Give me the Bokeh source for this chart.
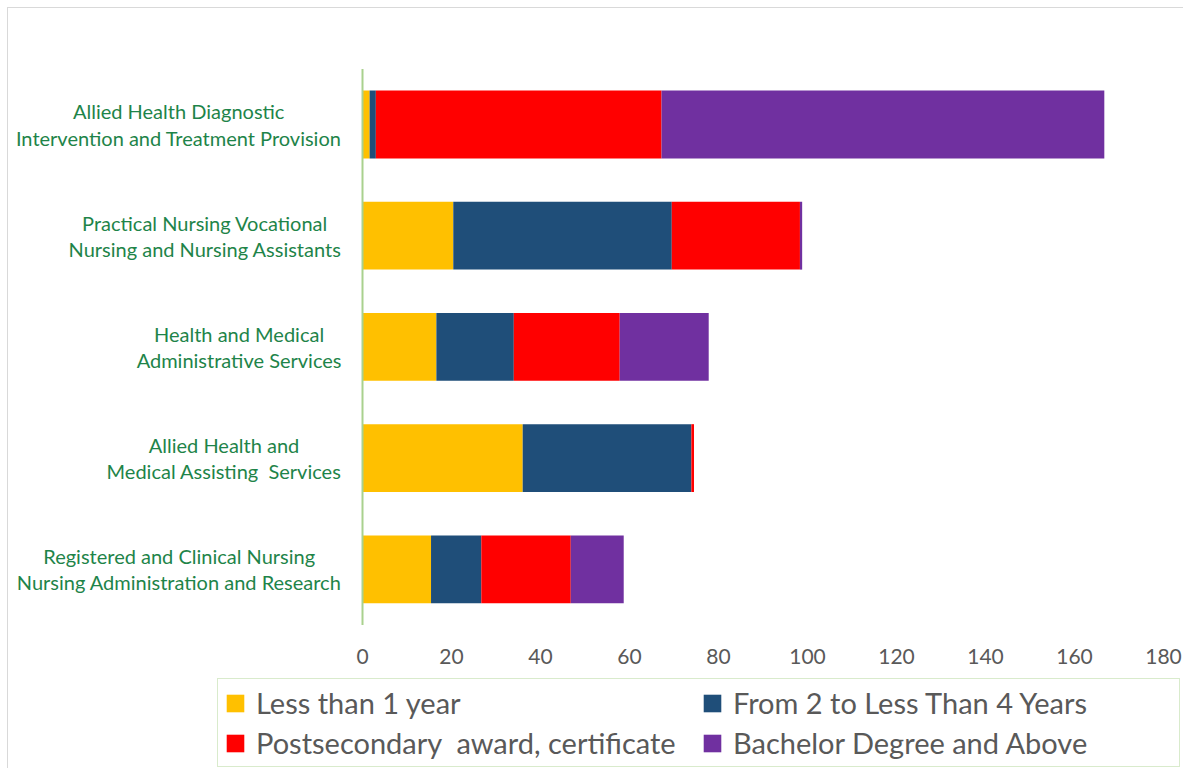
from bokeh.plotting import figure
from bokeh.models import ColumnDataSource, Range1d, Legend, LegendItem
from bokeh.core.properties import value
from bokeh.embed import file_html
from bokeh.resources import INLINE

categories = [
    "Allied Health Diagnostic\nIntervention and Treatment Provision",
    "Practical Nursing Vocational\nNursing and Nursing Assistants",
    "Health and Medical\nAdministrative Services",
    "Allied Health and\nMedical Assisting\u00a0 Services",
    "Registered and Clinical Nursing\nNursing Administration and Research",
]
less_than_1 = [1.6, 20.4, 16.6, 36.0, 15.4]
from_2_to_4 = [1.4, 49.1, 17.4, 37.9, 11.3]
postsecondary = [64.2, 28.8, 23.8, 0.6, 20.1]
bachelor = [99.5, 0.5, 20.0, 0.0, 11.9]
series_names = ["Less than 1 year", "From 2 to Less Than 4 Years",
                "Postsecondary\u00a0 award, certificate", "Bachelor Degree and Above"]
x_ticks = [0, 20, 40, 60, 80, 100, 120, 140, 160, 180]

colors = ["#FFC000", "#1F4E79", "#FF0000", "#7030A0"]
FONT = "Lato"
n = len(categories)
ypos = [n - 1 - i for i in range(n)]

source = ColumnDataSource(dict(
    y=ypos, cat=categories, less=less_than_1, two=from_2_to_4,
    post=postsecondary, bach=bachelor))

# ---- layout (canvas pixels) ----
W, H = 1176, 761
zero_px = 354                 # x pixel of value 0
px_per_unit = 801 / 180       # x scale
band_px = 111.2               # height of one category band
top_band_px = 116             # y pixel of the top category centre
x0 = -zero_px / px_per_unit
x1 = x0 + W / px_per_unit
y1 = (n - 1) + top_band_px / band_px
y0 = y1 - H / band_px
tick_y = -0.5 - 32 / band_px

p = figure(width=W, height=H, output_backend="svg", toolbar_location=None,
           x_range=Range1d(x0, x1), y_range=Range1d(y0, y1),
           min_border=0)
p.styles = {"margin-left": "7px", "margin-top": "7px",
            "border-left": "1px solid #d9d9d9", "border-top": "1px solid #d9d9d9"}
p.outline_line_color = None
p.xgrid.visible = False
p.ygrid.visible = False
p.xaxis.visible = False
p.yaxis.visible = False

renderers = p.hbar_stack(["less", "two", "post", "bach"], y="y", height=0.61,
                         color=colors, line_color=None, source=source)

# value axis line (at 0, spanning the category bands)
p.segment(x0=[0], y0=[-0.5], x1=[0], y1=[n - 0.5], line_color="#a9d18e", line_width=2)

# category labels
p.text(x=0, y="y", text="cat", source=source, x_offset=-21,
       anchor="center_right", text_align="center", text_baseline="middle",
       text_font=value(FONT), text_font_size="20px", text_color="#1E8449",
       text_line_height=1.09)

# value tick labels
p.text(x=x_ticks, y=[tick_y] * len(x_ticks), text=[str(t) for t in x_ticks],
       text_align="center", text_baseline="middle",
       text_font=value(FONT), text_font_size="21px", text_color="#595959")

items = [LegendItem(label=name, renderers=[r]) for name, r in zip(series_names, renderers)]
legend = Legend(items=items, location=(209, 2), orientation="horizontal", ncols=2,
                label_text_font=FONT, label_text_font_size="29px",
                label_text_color="#595959", glyph_width=22, glyph_height=22,
                label_height=30, label_width=440, label_standoff=10,
                spacing=5, padding=6,
                border_line_color="#b4d79a", border_line_width=1.5,
                background_fill_alpha=1.0, margin=0)
p.add_layout(legend, "center")

open("out.html", "w").write(file_html(p, INLINE))
